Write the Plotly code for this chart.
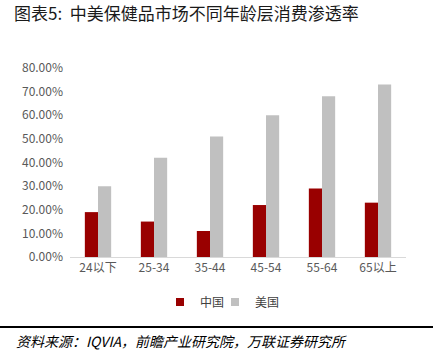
import plotly.graph_objects as go

categories = ["24以下", "25-34", "35-44", "45-54", "55-64", "65以上"]
china = [19, 15, 11, 22, 29, 23]
usa = [30, 42, 51, 60, 68, 73]
tick_vals = [0, 10, 20, 30, 40, 50, 60, 70, 80]
tick_text = [f"{v}.00%" for v in tick_vals]

font_cjk = "Noto Sans CJK SC"
RED = "#990000"
GREY = "#C0C0C0"

W, H = 440, 363
ML, MR, MT, MB = 70, 34, 68, 106
plot_h = H - MT - MB
plot_w = W - ML - MR


def py(pix):
    return (H - MB - pix) / plot_h


def px(pix):
    return (pix - ML) / plot_w


fig = go.Figure()
fig.add_trace(go.Bar(x=categories, y=china, name="中国", marker_color=RED, marker_line_width=0,
                     showlegend=False))
fig.add_trace(go.Bar(x=categories, y=usa, name="美国", marker_color=GREY, marker_line_width=0,
                     showlegend=False))
# legend entries (small squares like the original)
fig.add_trace(go.Scatter(x=[None], y=[None], mode="markers", name="中国",
                         marker=dict(symbol="square", size=8, color=RED), legend="legend"))
fig.add_trace(go.Scatter(x=[None], y=[None], mode="markers", name="美国",
                         marker=dict(symbol="square", size=8, color=GREY), legend="legend2"))

leg_common = dict(orientation="h", yanchor="middle", xanchor="left",
                  font=dict(size=12, color="#404040"), itemwidth=30, bgcolor="rgba(0,0,0,0)")

fig.update_layout(
    width=W, height=H,
    margin=dict(l=ML, r=MR, t=MT, b=MB, autoexpand=False),
    paper_bgcolor="white", plot_bgcolor="white",
    barmode="group", bargap=0.53, bargroupgap=0,
    font=dict(family=font_cjk, color="#595959", size=11),
    showlegend=True,
    legend=dict(x=px(160), y=py(302), **leg_common),
    legend2=dict(x=px(215), y=py(302), **leg_common),
    xaxis=dict(showline=True, linecolor="#D9D9D9", linewidth=1, ticks="", showgrid=False,
               tickfont=dict(size=12, color="#595959")),
    yaxis=dict(range=[0, 80], tickvals=tick_vals, ticktext=tick_text, showgrid=False,
               showline=False, ticks="", tickfont=dict(size=12, color="#595959"), ticklabelstandoff=6),
)

fig.add_annotation(text="图表5:  中美保健品市场不同年龄层消费渗透率", xref="paper", yref="paper",
                   x=px(12), xanchor="left", y=py(12), yanchor="middle", showarrow=False,
                   font=dict(size=17, color="#1a1a1a", family=font_cjk))
fig.add_annotation(text="<i>资料来源：IQVIA，前瞻产业研究院，万联证券研究所</i>", xref="paper", yref="paper",
                   x=px(14), xanchor="left", y=py(341), yanchor="middle", showarrow=False,
                   font=dict(size=14, color="#000000", family=font_cjk))
fig.add_shape(type="line", xref="paper", yref="paper", x0=px(0), x1=px(433), y0=py(327), y1=py(327),
              line=dict(color="#000000", width=2))

fig.write_html("out.html", config={"displayModeBar": False},
               post_script="document.body.style.margin='0px';")
